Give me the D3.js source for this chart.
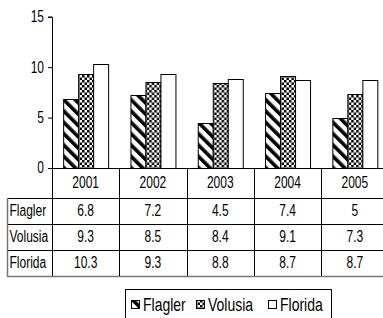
<!DOCTYPE html>
<html>
<head>
<meta charset="utf-8">
<script src="https://cdn.jsdelivr.net/npm/d3@7"></script>
<style>
  body { margin: 0; background: #fff; }
  svg text { font-family: "Liberation Sans", Arial, sans-serif; fill: #000; }
</style>
</head>
<body>
<div id="main"></div>
<script>
const years = ["2001", "2002", "2003", "2004", "2005"];
const series = ["Flagler", "Volusia", "Florida"];
const flagler = [6.8, 7.2, 4.5, 7.4, 5];
const volusia = [9.3, 8.5, 8.4, 9.1, 7.3];
const florida = [10.3, 9.3, 8.8, 8.7, 8.7];
const yTicks = [0, 5, 10, 15];

const ctx = {
    w: 383,
    h: 318,
    left: 52,
    right: 388.5,
    top: 16.7,
    base: 168,
    headerH: 30,
    rowH: 26,
    labelX: 7.5,
    fontSize: 12,
    stretch: 1.3,
};

const values = { Flagler: flagler, Volusia: volusia, Florida: florida };

// the source font is tall and narrow, so every label is stretched a bit
function tallText(g, x, y, str, size, anchor) {
    return g.append("text")
        .attr("transform", "translate(" + x + "," + y + ") scale(1," + ctx.stretch + ")")
        .attr("dy", "0.35em")
        .attr("text-anchor", anchor || "start")
        .style("font-size", size + "px")
        .text(str);
}

function createViz() {
    let svg = d3.select("#main").append("svg")
        .attr("width", ctx.w)
        .attr("height", ctx.h);

    let defs = svg.append("defs");

    // diagonal stripes for Flagler
    let p1 = defs.append("pattern")
        .attr("id", "pat-Flagler")
        .attr("patternUnits", "userSpaceOnUse")
        .attr("width", 8).attr("height", 8)
        .attr("patternTransform", "rotate(-45)");
    p1.append("rect").attr("width", 8).attr("height", 8).attr("fill", "#fff");
    p1.append("rect").attr("width", 3.6).attr("height", 8).attr("fill", "#000");

    // small checker for Volusia
    let p2 = defs.append("pattern")
        .attr("id", "pat-Volusia")
        .attr("patternUnits", "userSpaceOnUse")
        .attr("width", 5).attr("height", 5);
    p2.append("rect").attr("width", 5).attr("height", 5).attr("fill", "#fff");
    p2.append("rect").attr("width", 2.5).attr("height", 2.5).attr("fill", "#000");
    p2.append("rect").attr("x", 2.5).attr("y", 2.5).attr("width", 2.5).attr("height", 2.5).attr("fill", "#000");

    const fills = { Flagler: "url(#pat-Flagler)", Volusia: "url(#pat-Volusia)", Florida: "#fff" };

    let x = d3.scaleBand().domain(years).range([ctx.left, ctx.right]);
    let xs = d3.scaleBand().domain(series).range([0, x.bandwidth()]).paddingOuter(0.744);
    let y = d3.scaleLinear().domain([0, 15]).range([ctx.base, ctx.top]);

    // bars
    let groups = svg.append("g").selectAll("g")
        .data(years)
        .enter().append("g")
        .attr("transform", d => "translate(" + x(d) + ",0)");

    groups.selectAll("rect")
        .data((d, i) => series.map(s => ({ s: s, v: values[s][i] })))
        .enter().append("rect")
        .attr("x", d => xs(d.s) + 0.5)
        .attr("y", d => Math.round(y(d.v)) + 0.5)
        .attr("width", xs.bandwidth())
        .attr("height", d => ctx.base - Math.round(y(d.v)))
        .attr("fill", d => fills[d.s])
        .attr("stroke", "#000")
        .attr("stroke-width", 1);

    // y axis
    let yAxis = d3.axisLeft(y).tickValues(yTicks).tickSize(4).tickFormat("");
    let ga = svg.append("g")
        .attr("transform", "translate(" + ctx.left + ",0)")
        .call(yAxis);
    ga.select(".domain").attr("stroke", "#000");
    ga.selectAll(".tick line").attr("stroke", "#000");
    yTicks.forEach(v => tallText(svg, ctx.left - 8, y(v), v, ctx.fontSize, "end"));

    // data table
    let t = svg.append("g").attr("class", "table");
    let rowTop = ctx.base + ctx.headerH;
    let tableBottom = rowTop + ctx.rowH * series.length;

    t.append("line")
        .attr("x1", ctx.left).attr("x2", ctx.right)
        .attr("y1", ctx.base + 0.5).attr("y2", ctx.base + 0.5)
        .attr("stroke", "#000");

    series.forEach((s, i) => {
        let yy = rowTop + ctx.rowH * i;
        t.append("line")
            .attr("x1", ctx.labelX).attr("x2", ctx.right)
            .attr("y1", yy + 0.5).attr("y2", yy + 0.5)
            .attr("stroke", "#000");
    });
    t.append("line")
        .attr("x1", ctx.labelX).attr("x2", ctx.right)
        .attr("y1", tableBottom + 0.5).attr("y2", tableBottom + 0.5)
        .attr("stroke", "#777").attr("stroke-width", 1.5);
    t.append("line")
        .attr("x1", ctx.labelX).attr("x2", ctx.labelX)
        .attr("y1", rowTop).attr("y2", tableBottom + 1)
        .attr("stroke", "#777").attr("stroke-width", 1.5);

    years.concat(["end"]).forEach((d, i) => {
        let xx = Math.round(ctx.left + x.step() * i) + 0.5;
        t.append("line")
            .attr("x1", xx).attr("x2", xx)
            .attr("y1", ctx.base).attr("y2", tableBottom)
            .attr("stroke", "#000");
    });

    years.forEach(d => tallText(t, x(d) + x.bandwidth() / 2, ctx.base + ctx.headerH / 2, d, ctx.fontSize, "middle"));

    series.forEach((s, i) => {
        let cy = rowTop + ctx.rowH * i + ctx.rowH / 2;
        tallText(t, ctx.labelX + 2, cy, s, ctx.fontSize);
        values[s].forEach((v, j) => tallText(t, x(years[j]) + x.bandwidth() / 2, cy, v, ctx.fontSize, "middle"));
    });

    // legend
    let lg = svg.append("g");
    lg.append("rect")
        .attr("x", 125.5).attr("y", 289.5)
        .attr("width", 206).attr("height", 40)
        .attr("fill", "none").attr("stroke", "#000");

    let lx = [131, 196, 268];
    series.forEach((s, i) => {
        lg.append("rect")
            .attr("x", lx[i] + 0.5).attr("y", 300.5)
            .attr("width", 8).attr("height", 8)
            .attr("fill", fills[s]).attr("stroke", "#000");
        tallText(lg, lx[i] + 12, 305, s, 14);
    });
}

createViz();
</script>
</body>
</html>
